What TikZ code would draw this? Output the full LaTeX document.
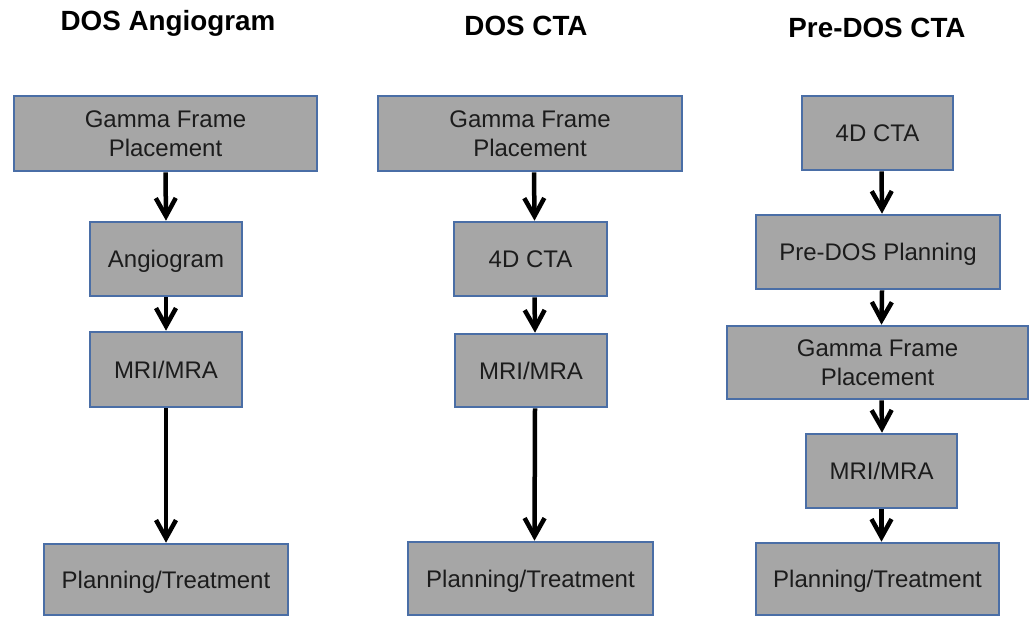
\documentclass[tikz,border=0pt]{standalone}
\usepackage{fontspec}
\setmainfont{Liberation Sans}
\usetikzlibrary{arrows.meta}
\definecolor{boxgray}{HTML}{A6A6A6}
\definecolor{boxblue}{HTML}{4A6EA6}
\definecolor{inkgray}{HTML}{1C1C1C}

\begin{document}
\begin{tikzpicture}[
    x=1pt, y=-1pt,
    box/.style={draw=boxblue, fill=boxgray, line width=2.6pt, align=center,
    inner sep=0pt, text=inkgray, font=\fontsize{24}{29}\selectfont},
    oneline/.style={text height=17.2pt, text depth=0pt},
    flow/.style={line width=4.5pt, -{Straight Barb[length=18pt, width=20pt, line width=4.5pt]}},
    title/.style={anchor=base, font=\fontsize{27.8}{32}\selectfont\bfseries},
    every node/.style={color=black}
    ]
    \useasboundingbox[fill=white] (0,0) rectangle (1035,617);

    % titles
    \node[title] (t1) at (168,31) {DOS Angiogram};
    \node[title] (t2) at (526,36) {DOS CTA};
    \node[title] (t3) at (877,38) {Pre-DOS CTA};

    % DOS angiogram
    \node[box, minimum width=303pt, minimum height=75pt] (c1a) at (165.5,133.5) {Gamma Frame\\Placement};
    \node[box, oneline, minimum width=152pt, minimum height=74pt] (c1b) at (166,259) {Angiogram};
    \node[box, oneline, minimum width=152pt, minimum height=75pt] (c1c) at (166,369.5) {MRI/MRA};
    \node[box, oneline, minimum width=244pt, minimum height=71pt] (c1d) at (166,579.5) {Planning/Treatment};

    % DOS CTA
    \node[box, minimum width=304pt, minimum height=75pt] (c2a) at (530,133.5) {Gamma Frame\\Placement};
    \node[box, oneline, minimum width=153pt, minimum height=74pt] (c2b) at (530.5,259) {4D CTA};
    \node[box, oneline, minimum width=152pt, minimum height=73pt] (c2c) at (531,370.5) {MRI/MRA};
    \node[box, oneline, minimum width=245pt, minimum height=73pt] (c2d) at (530.5,578.5) {Planning/Treatment};

    % Pre-DOS CTA
    \node[box, oneline, minimum width=151pt, minimum height=74pt] (c3a) at (877.5,133) {4D CTA};
    \node[box, oneline, minimum width=244pt, minimum height=74pt] (c3b) at (878,252) {Pre-DOS Planning};
    \node[box, minimum width=301pt, minimum height=73pt] (c3c) at (877.5,362.5) {Gamma Frame\\Placement};
    \node[box, oneline, minimum width=151pt, minimum height=74pt] (c3d) at (881.5,471) {MRI/MRA};
    \node[box, oneline, minimum width=243pt, minimum height=72pt] (c3e) at (877.5,579) {Planning/Treatment};

    % arrows
    \draw[flow] (c1a.south) -- (c1b.north);
    \draw[flow] (c1b.south) -- (c1c.north);
    \draw[flow] (c1c.south) -- (c1d.north);

    \draw[flow] ([xshift=4pt]c2a.south) -- ([xshift=4pt]c2b.north);
    \draw[flow] ([xshift=4pt]c2b.south) -- ([xshift=4pt]c2c.north);
    \draw[flow] ([xshift=4pt]c2c.south) -- ([xshift=4pt]c2d.north);

    \draw[flow] ([xshift=4pt]c3a.south) -- ([xshift=4pt]c3b.north);
    \draw[flow] ([xshift=4pt]c3b.south) -- ([xshift=4pt]c3c.north);
    \draw[flow] ([xshift=4pt]c3c.south) -- ([xshift=0.5pt]c3d.north);
    \draw[flow] (c3d.south) -- ([xshift=4pt]c3e.north);

\end{tikzpicture}
\end{document}
